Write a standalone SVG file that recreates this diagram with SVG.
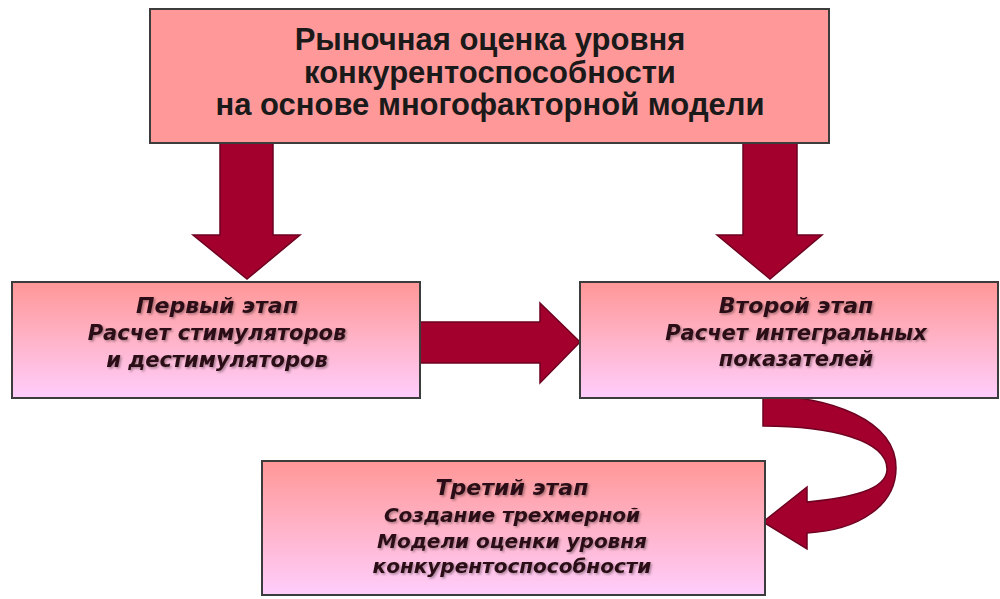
<svg xmlns="http://www.w3.org/2000/svg" width="1000" height="599" viewBox="0 0 1000 599">
  <defs>
    <linearGradient id="pinkGrad" x1="0" y1="0" x2="0" y2="1">
      <stop offset="0" stop-color="#FF9797"/>
      <stop offset="0.5" stop-color="#FFB3C8"/>
      <stop offset="1" stop-color="#FFCDFC"/>
    </linearGradient>
    <filter id="shadow" x="-5%" y="-20%" width="110%" height="140%">
      <feDropShadow dx="1.5" dy="1.5" stdDeviation="0.8" flood-color="#000" flood-opacity="0.35"/>
    </filter>
  </defs>
  <style>
    .box { stroke: #3c3c3c; stroke-width: 2; }
    .top { fill: #FF9999; }
    .stage { fill: url(#pinkGrad); }
    .arrow { fill: #A3002E; stroke: #6E0020; stroke-width: 1.5; stroke-linejoin: miter; }
    .title { font-family: "Liberation Sans", Arial, sans-serif; font-weight: bold; font-size: 31px; fill: #1a1a1a; text-anchor: middle; }
    .head { font-family: "DejaVu Sans", sans-serif; font-weight: bold; font-style: italic; font-size: 22px; fill: #2a0f14; text-anchor: middle; filter: url(#shadow); }
    .body { font-family: "DejaVu Sans", sans-serif; font-weight: bold; font-style: italic; font-size: 21px; fill: #2a0f14; text-anchor: middle; filter: url(#shadow); }
    .body3 { font-size: 20px; }
  </style>
  <rect width="1000" height="599" fill="#ffffff"/>

  <g id="connectors">
    <polygon class="arrow" points="220,143 273,143 273,235 300,235 247,279 193,235 220,235"/>
    <polygon class="arrow" points="743,143 797,143 797,235 822,235 770,279 717,235 743,235"/>
    <polygon class="arrow" points="420,322 540,322 540,303 580,342 540,383 540,363 420,363"/>
    <path class="arrow" d="M763,396 C830,396 896,420 896,468 C896,505 860,530 807,533 L807,549 L763,522 L807,487 L807,502 C850,498 886,490 887,470 C888,440 830,426 763,426 Z"/>
  </g>

  <g id="node-top">
    <rect class="box top" x="150" y="9" width="679" height="134"/>
    <text class="title" x="490" y="50">Рыночная оценка уровня</text>
    <text class="title" x="490" y="83">конкурентоспособности</text>
    <text class="title" x="490" y="115">на основе многофакторной модели</text>
  </g>

  <g id="node-stage1">
    <rect class="box stage" x="12" y="282" width="408" height="116"/>
    <text class="head" x="217" y="313">Первый этап</text>
    <text class="body" x="217" y="340">Расчет стимуляторов</text>
    <text class="body" x="217" y="367">и дестимуляторов</text>
  </g>

  <g id="node-stage2">
    <rect class="box stage" x="580" y="282" width="418" height="116"/>
    <text class="head" x="796" y="313">Второй этап</text>
    <text class="body" x="796" y="340">Расчет интегральных</text>
    <text class="body" x="796" y="366">показателей</text>
  </g>

  <g id="node-stage3">
    <rect class="box stage" x="262" y="461" width="503" height="134"/>
    <text class="head" x="512" y="495">Третий этап</text>
    <text class="body body3" x="512" y="522">Создание трехмерной</text>
    <text class="body body3" x="512" y="548">Модели оценки уровня</text>
    <text class="body body3" x="512" y="573">конкурентоспособности</text>
  </g>
</svg>
